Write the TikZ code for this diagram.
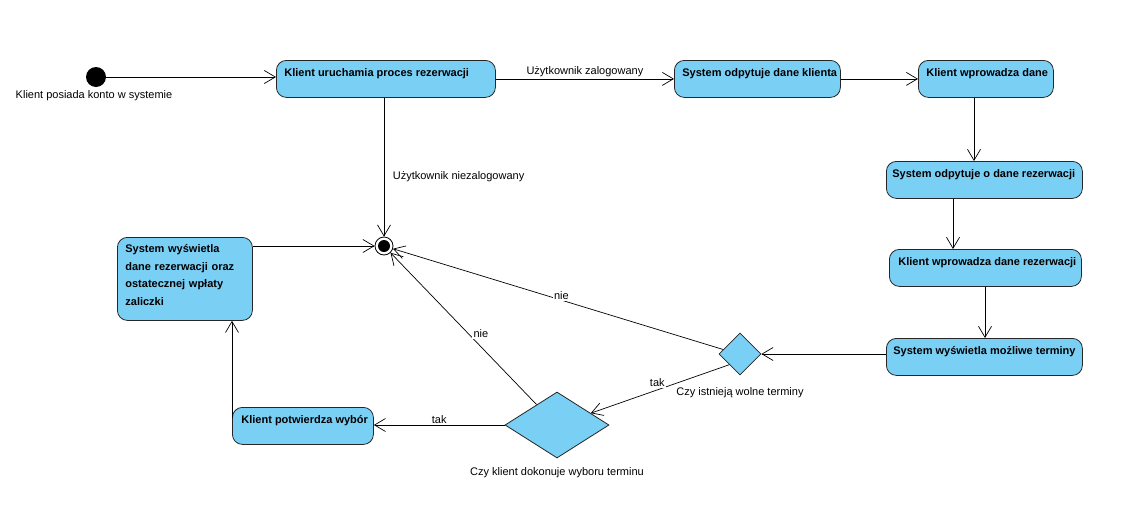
\documentclass[tikz,border=0pt]{standalone}
\usepackage{fontspec}
\setmainfont{Liberation Sans}
\usetikzlibrary{arrows.meta,shapes.geometric,calc}
\definecolor{actfill}{RGB}{122,207,245}
\begin{document}
\begin{tikzpicture}[x=1pt,y=-1pt,
  act/.style={draw=black!85, line width=0.8pt, fill=actfill, rounded corners=10pt,
    inner xsep=8pt, inner ysep=7pt, text height=9.5pt, text depth=13.5pt,
    font=\bfseries\fontsize{11}{13}\selectfont, anchor=north west},
  dec/.style={diamond, draw=black!85, line width=0.8pt, fill=actfill, inner sep=0pt},
  lbl/.style={font=\fontsize{11}{13}\selectfont, inner sep=1.5pt},
  arr/.style={draw, line width=0.7pt, -{Straight Barb[length=11pt,width=13pt,line width=0.7pt]}},
]
\useasboundingbox (0,0) rectangle (1125,520);
\fill[white] (0,0) rectangle (1125,520);

% activity nodes
\node[act] (a1) at (276,60) {\makebox[203pt][l]{Klient uruchamia proces rezerwacji}};
\node[act] (a2) at (674,60) {\makebox[150pt][l]{System odpytuje dane klienta}};
\node[act] (a3) at (918,60) {\makebox[119pt][l]{Klient wprowadza dane}};
\node[act, inner xsep=6pt] (a4) at (886,161) {\makebox[184pt][l]{System odpytuje o dane rezerwacji}};
\node[act, inner xsep=9pt] (a5) at (889,249) {\makebox[174pt][l]{Klient wprowadza dane rezerwacji}};
\node[act, inner xsep=7pt] (a6) at (886,338) {\makebox[182pt][l]{System wyświetla możliwe terminy}};
\node[act, inner xsep=9pt] (a7) at (232,407) {\makebox[123pt][l]{Klient potwierdza wybór}};
\node[act, text width=119pt, align=left, text height=8.5pt, text depth=60.5pt,
  font=\bfseries\fontsize{11}{17.5}\selectfont] (a8) at (117,237)
  {System wyświetla\\dane rezerwacji oraz\\ostatecznej wpłaty\\zaliczki};

% initial / final
\node[circle, fill=black, minimum size=20pt, inner sep=0pt] (ini) at (96,77) {};
\node[lbl] (inil) at (94,96) {Klient posiada konto w systemie};
\node[circle, draw=black, line width=0.8pt, fill=white, minimum size=18pt, inner sep=0pt] (fin) at (384,246) {};
\fill[black] (fin.center) circle[radius=6pt];

% decisions
\node[dec, minimum width=42pt, minimum height=42pt] (d1) at (740,354) {};
\node[lbl] (d1l) at (740,393) {Czy istnieją wolne terminy};
\node[dec, minimum width=104pt, minimum height=66pt] (d2) at (557,425) {};
\node[lbl] (d2l) at (557,473) {Czy klient dokonuje wyboru terminu};

% connectors
\draw[arr] (ini) -- (ini -| a1.west);
\draw[arr] (a1.east) -- node[lbl, midway, above=0pt]{Użytkownik zalogowany} (a2.west);
\draw[arr] (a2.east) -- (a3.west);
\coordinate (v1) at (974,0);
\coordinate (v2) at (953,0);
\coordinate (v3) at (985,0);
\draw[arr] (a3.south -| v1) -- (a4.north -| v1);
\draw[arr] (a4.south -| v2) -- (a5.north -| v2);
\draw[arr] (a5.south -| v3) -- (a6.north -| v3);
\draw[arr] (a6.west |- d1) -- (d1.east);
\draw[arr] (d1.165) -- node[lbl, fill=white, pos=0.49, yshift=5pt]{nie} (fin);
\draw[arr] (d1.south west) -- node[lbl, fill=white, pos=0.52, yshift=7pt]{tak} (d2);
\draw[arr] (d2.135) -- node[lbl, fill=white, pos=0.47, xshift=13pt]{nie} (fin);
\draw[arr] (d2.west) -- node[lbl, midway, above=0pt]{tak} (d2.west -| a7.east);
\coordinate (a7w) at ([yshift=8pt]a7.west);
\draw[arr] (a7w) -- (a7w |- a8.south);
\draw[arr] (a8.east |- fin) -- (fin);
\draw[arr] (a1.south -| fin) -- node[lbl, pos=0.57, right, xshift=7pt]{Użytkownik niezalogowany} (fin);
\end{tikzpicture}
\end{document}
